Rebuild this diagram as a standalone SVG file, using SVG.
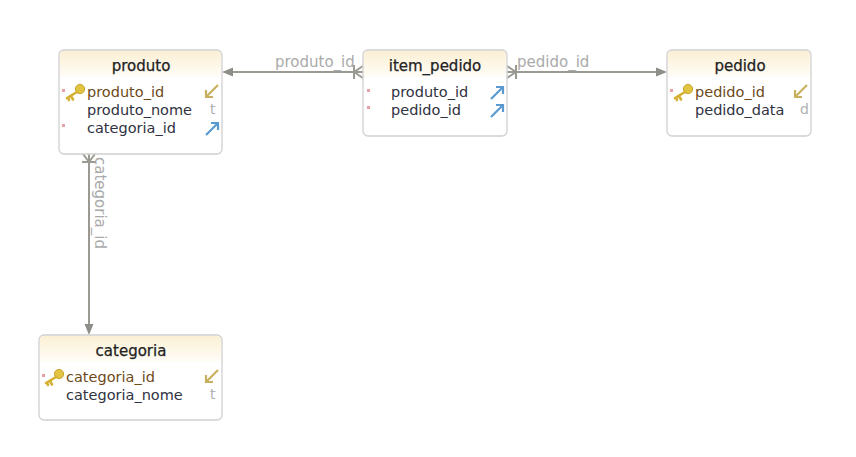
<svg xmlns="http://www.w3.org/2000/svg" width="856" height="457" viewBox="0 0 856 457">
<defs>
<linearGradient id="hdr" x1="0" y1="0" x2="0" y2="1">
<stop offset="0" stop-color="#fbf0d4"/>
<stop offset="1" stop-color="#fffdf8"/>
</linearGradient>
<g id="key">
<circle cx="5" cy="-3" r="4.6" fill="#e2c445" stroke="#c9a227" stroke-width="1"/>
<path d="M2 0 L-8 6 M-4 4 L-2 7.5 M-7 5.5 L-6 8" stroke="#d4b030" stroke-width="2.6" fill="none" stroke-linecap="round"/>
</g>
<g id="pk">
<path d="M14 -7 L2 5 M2 -2 L2 5 L9 5" stroke="#c8b060" stroke-width="2.2" fill="none"/>
</g>
<g id="fk">
<path d="M2 7 L14 -5 M7 -5 L14 -5 L14 2" stroke="#5a9ad0" stroke-width="2.2" fill="none"/>
</g>
</defs>
<style>
.box{fill:#fff;stroke:#d0d0d0;stroke-width:1.3}
.hd{fill:url(#hdr)}
.title{font-family:"DejaVu Sans",sans-serif;font-size:15px;fill:#222;text-anchor:middle;stroke:#222;stroke-width:0.25}
.col{font-family:"DejaVu Sans",sans-serif;font-size:14.5px;fill:#30323f}
.pkc{font-family:"DejaVu Sans",sans-serif;font-size:14.5px;fill:#6e4a1a}
.typ{font-family:"DejaVu Sans",sans-serif;font-size:14px;fill:#b0b0b0}
.req{fill:#e8a0a8}
.ln{stroke:#9a9a92;stroke-width:2;fill:none}
.ah{fill:#8e8e88}
.lbl{font-family:"DejaVu Sans",sans-serif;font-size:15px;fill:#aaaaaa}
</style>
<rect width="856" height="457" fill="#fff"/>

<g id="connectors">
<!-- produto_id -->
<line class="ln" x1="226" y1="72" x2="363" y2="72"/>
<path class="ah" d="M222 72 L233 67.5 L233 76.5 Z"/>
<path class="ln" d="M354 65 L354 79 M354 72 L363 66 M354 72 L363 78" stroke-width="1.6"/>
<text class="lbl" x="275" y="67">produto_id</text>
<!-- pedido_id -->
<line class="ln" x1="507" y1="72" x2="663" y2="72"/>
<path class="ah" d="M667 72 L656 67.5 L656 76.5 Z"/>
<path class="ln" d="M516 65 L516 79 M516 72 L507 66 M516 72 L507 78" stroke-width="1.6"/>
<text class="lbl" x="517" y="67">pedido_id</text>
<!-- categoria_id -->
<line class="ln" x1="89" y1="154" x2="89" y2="331"/>
<path class="ah" d="M89 335 L84.5 324 L93.5 324 Z"/>
<path class="ln" d="M82 162 L96 162 M89 162 L83 154 M89 162 L95 154" stroke-width="1.6"/>
<text class="lbl" transform="translate(95,157) rotate(90)">categoria_id</text>
</g>

<g id="produto">
<rect class="box" x="59" y="50" width="163" height="104" rx="5"/>
<path class="hd" d="M60 55 Q60 51 64 51 L217 51 Q221 51 221 55 L221 77 L60 77 Z"/>
<text class="title" x="141" y="71">produto</text>
<rect class="req" x="62" y="89" width="3" height="3"/>
<use href="#key" x="75" y="92"/>
<text class="pkc" x="87" y="97">produto_id</text>
<use href="#pk" x="204" y="92"/>
<text class="col" x="87" y="115">produto_nome</text>
<text class="typ" x="210" y="114">t</text>
<rect class="req" x="62" y="124" width="3" height="3"/>
<text class="col" x="87" y="133">categoria_id</text>
<use href="#fk" x="204" y="128"/>
</g>

<g id="item_pedido">
<rect class="box" x="363" y="50" width="144" height="86" rx="5"/>
<path class="hd" d="M364 55 Q364 51 368 51 L502 51 Q506 51 506 55 L506 77 L364 77 Z"/>
<text class="title" x="435" y="71">item_pedido</text>
<rect class="req" x="367" y="89" width="3" height="3"/>
<text class="col" x="391" y="97">produto_id</text>
<use href="#fk" x="489" y="92"/>
<rect class="req" x="367" y="106" width="3" height="3"/>
<text class="col" x="391" y="115">pedido_id</text>
<use href="#fk" x="489" y="110"/>
</g>

<g id="pedido">
<rect class="box" x="667" y="50" width="144" height="86" rx="5"/>
<path class="hd" d="M668 55 Q668 51 672 51 L806 51 Q810 51 810 55 L810 77 L668 77 Z"/>
<text class="title" x="740" y="71">pedido</text>
<rect class="req" x="670" y="89" width="3" height="3"/>
<use href="#key" x="683" y="92"/>
<text class="pkc" x="695" y="97">pedido_id</text>
<use href="#pk" x="793" y="92"/>
<text class="col" x="695" y="115">pedido_data</text>
<text class="typ" x="800" y="114">d</text>
</g>

<g id="categoria">
<rect class="box" x="39" y="335" width="183" height="85" rx="5"/>
<path class="hd" d="M40 340 Q40 336 44 336 L217 336 Q221 336 221 340 L221 362 L40 362 Z"/>
<text class="title" x="131" y="356">categoria</text>
<rect class="req" x="42" y="374" width="3" height="3"/>
<use href="#key" x="54" y="377"/>
<text class="pkc" x="66" y="382">categoria_id</text>
<use href="#pk" x="204" y="377"/>
<text class="col" x="66" y="400">categoria_nome</text>
<text class="typ" x="210" y="399">t</text>
</g>
</svg>
